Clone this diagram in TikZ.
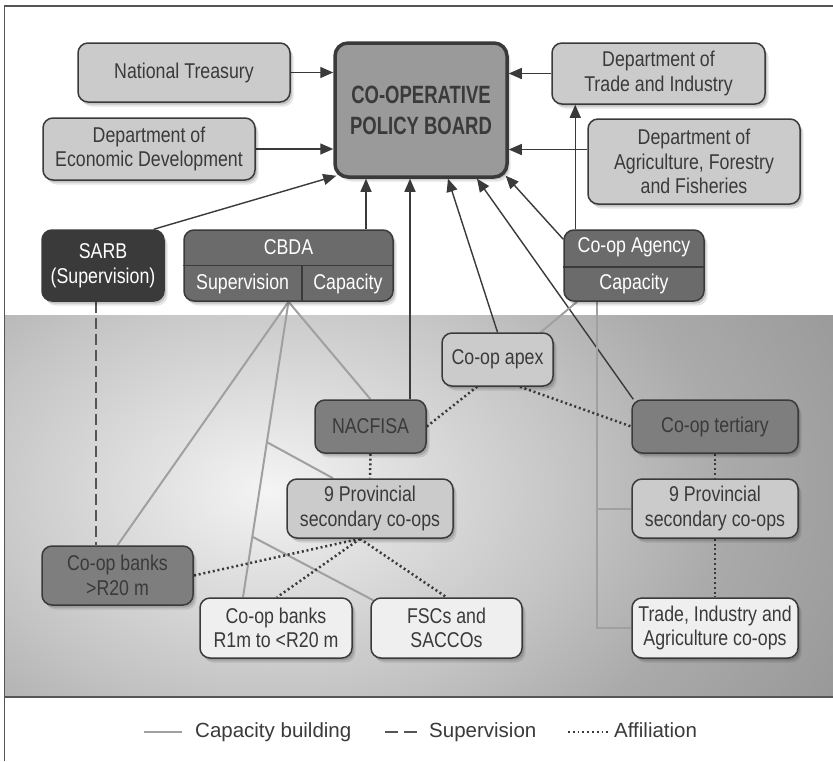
\documentclass[tikz,border=0pt]{standalone}
\usepackage{fontspec}
\setmainfont{Liberation Sans}
\newfontfamily\boxfont{Liberation Sans}[FakeStretch=0.83]
\newfontfamily\cpbfont{Liberation Sans}[FakeStretch=0.74]
\newfontfamily\legfont{Liberation Sans}
\usetikzlibrary{arrows.meta,shadows,calc}
\definecolor{ink}{HTML}{3A3A3A}
\definecolor{framec}{HTML}{555555}
\definecolor{lightbox}{HTML}{CBCBCB}
\definecolor{cpbfill}{HTML}{9A9A9A}
\definecolor{midbox}{HTML}{7E7E7E}
\definecolor{darkbox}{HTML}{6B6B6B}
\definecolor{sarbfill}{HTML}{3A3A3A}
\definecolor{palebox}{HTML}{EFEFEF}
\definecolor{capline}{HTML}{A0A0A0}
\definecolor{gA}{HTML}{F4F4F4}
\definecolor{gB}{HTML}{E0E0E0}
\definecolor{gC}{HTML}{C4C4C4}
\definecolor{gD}{HTML}{AAAAAA}
\definecolor{gE}{HTML}{969696}
\definecolor{gF}{HTML}{888888}
\pgfdeclareradialshading{bgshade}{\pgfpoint{0bp}{0bp}}{color(0bp)=(gA); color(4bp)=(gB); color(10bp)=(gC); color(15bp)=(gD); color(22bp)=(gE); color(35bp)=(gF); color(50bp)=(gF)}
\pgfdeclarelayer{bg}
\pgfdeclarelayer{lines}
\pgfsetlayers{bg,lines,main}
\tikzset{
  box/.style={draw=ink, line width=1.5pt, rounded corners=10pt, align=center, inner sep=0pt,
    font=\boxfont\fontsize{21.4}{24.5}\selectfont, text=ink,
    general shadow={fill=black, opacity=0.10, shadow xshift=3.5pt, shadow yshift=-4.5pt},
    general shadow={fill=black, opacity=0.14, shadow xshift=2pt, shadow yshift=-2.5pt}},
  lightnode/.style={box, fill=lightbox},
  palenode/.style={box, fill=palebox},
  midnode/.style={box, fill=midbox},
  darknode/.style={box, fill=darkbox, text=white},
  sarbnode/.style={box, fill=sarbfill, text=white},
  cpbnode/.style={box, fill=cpbfill, line width=3.5pt, rounded corners=13pt,
    font=\cpbfont\bfseries\fontsize{25}{31}\selectfont},
  lbl/.style={inner sep=0pt, font=\boxfont\fontsize{21.4}{24.5}\selectfont, text=white},
  arr/.style={draw=ink, line width=1.4pt, -{Triangle[length=13pt,width=11pt]}},
  capl/.style={draw=capline, line width=2pt},
  supl/.style={draw=framec, line width=1.6pt, dash pattern=on 11pt off 5pt},
  affl/.style={draw=ink, line width=2.5pt, dash pattern=on 2pt off 2.8pt},
  legtext/.style={inner sep=0pt, anchor=base west, font=\legfont\fontsize{20.5}{24}\selectfont, text=ink}
}
\begin{document}
\begin{tikzpicture}[x=1pt,y=-1pt]
\useasboundingbox (0,0) rectangle (833,761);
\begin{pgfonlayer}{bg}
  \fill[white] (0,0) rectangle (833,761);
  \begin{scope}
    \clip (4.5,315) rectangle (833,697);
    \fill[gF] (4.5,315) rectangle (833,697);
    \shade[shading=bgshade] (270,490) ellipse [x radius=760pt, y radius=520pt];
  \end{scope}
  \draw[framec, line width=1.5pt] (4.5,697) -- (833,697);
  \draw[framec, line width=1.5pt] (833,6) -- (4.5,6) -- (4.5,761);
\end{pgfonlayer}

% top level
\node[lightnode, minimum width=212pt, minimum height=59pt] (nt) at (184,72.5) {National Treasury};
\node[lightnode, minimum width=212pt, minimum height=62pt] (ded) at (149,149) {Department of\\Economic Development};
\node[cpbnode, minimum width=172pt, minimum height=134pt] (cpb) at (421,110) {CO-OPERATIVE\\POLICY BOARD};
\node[lightnode, minimum width=213pt, minimum height=61pt] (dti) at (658.5,73.5) {Department of\\Trade and Industry};
\node[lightnode, minimum width=212pt, minimum height=85pt] (daff) at (694,161.5) {Department of\\Agriculture, Forestry\\and Fisheries};

% second row
\node[sarbnode, minimum width=122pt, minimum height=71pt] (sarb) at (103,265.5) {SARB\\(Supervision)};
\node[darknode, minimum width=209pt, minimum height=71pt] (cbda) at (288.5,265.5) {};
\draw[ink, line width=1.3pt] (cbda.west) -- (cbda.east);
\draw[ink, line width=1.3pt] ([xshift=13.5pt]cbda.center) -- ([xshift=13.5pt]cbda.south);
\node[lbl] (cbdat) at ($(cbda.north)!0.5!(cbda.center)$) {CBDA};
\node[lbl] (cbdasup) at ($(cbda.south west)!0.5!([xshift=13.5pt]cbda.center)$) {Supervision};
\node[lbl] (cbdacap) at ($(cbda.south east)!0.5!([xshift=13.5pt]cbda.center)$) {Capacity};
\node[darknode, minimum width=140pt, minimum height=71pt] (agency) at (634,265.5) {};
\draw[ink, line width=1.3pt] ([yshift=-1.5pt]agency.west) -- ([yshift=-1.5pt]agency.east);
\node[lbl] (agt) at ($(agency.north)!0.5!(agency.center)$) {Co-op Agency};
\node[lbl] (agcap) at ($(agency.south)!0.5!(agency.center)$) {Capacity};

% lower part
\node[lightnode, minimum width=111pt, minimum height=53pt] (apex) at (497.5,359.5) {Co-op apex};
\node[midnode, minimum width=111pt, minimum height=53pt] (nacfisa) at (370.5,426.5) {NACFISA};
\node[midnode, minimum width=166pt, minimum height=53pt] (tert) at (715,426.5) {Co-op tertiary};
\node[lightnode, minimum width=166pt, minimum height=59pt] (prov1) at (370,508.5) {9 Provincial\\secondary co-ops};
\node[lightnode, minimum width=166pt, minimum height=59pt] (prov2) at (715,508.5) {9 Provincial\\secondary co-ops};
\node[midnode, minimum width=151pt, minimum height=59pt] (banksbig) at (117.5,575.5) {Co-op banks\\>R20 m};
\node[palenode, minimum width=152pt, minimum height=60pt] (bankssmall) at (276,628) {Co-op banks\\R1m to <R20 m};
\node[palenode, minimum width=151pt, minimum height=60pt] (fsc) at (446.5,628) {FSCs and\\SACCOs};
\node[palenode, minimum width=166pt, minimum height=60pt] (trade) at (715,628) {Trade, Industry and\\Agriculture co-ops};

\begin{pgfonlayer}{lines}
  % arrows to the board
  \draw[arr] (nt.east) -- (nt.east -| cpb.west);
  \draw[arr] (ded.east) -- (ded.east -| cpb.west);
  \draw[arr] (dti.west) -- (dti.west -| cpb.east);
  \draw[arr] ([yshift=12pt]daff.west) -- ([yshift=12pt]daff.west -| cpb.east);
  \draw[arr] ([xshift=-11pt]sarb.north east) -- ([xshift=3pt,yshift=3pt]cpb.south west);
  \draw[arr] ([xshift=77.5pt]cbda.north) -- ([xshift=77.5pt]cbda.north |- cpb.south);
  \draw[arr] ([xshift=39.5pt]nacfisa.north) -- ([xshift=39.5pt]nacfisa.north |- cpb.south);
  \draw[arr] (apex.north) -- ([xshift=27pt]cpb.south);
  \draw[arr] ([xshift=2pt]tert.north west) -- ([xshift=56pt]cpb.south);
  \draw[arr] ([yshift=-10pt]agency.north west) -- ([xshift=-3pt,yshift=3pt]cpb.south east);
  \draw[arr] ([xshift=12pt]agency.north west) -- ([xshift=12pt]agency.north west |- dti.south);
  % capacity building
  \coordinate (smtop) at ([xshift=-33pt]bankssmall.north);
  \draw[capl] (cbda.south) -- (banksbig.north);
  \draw[capl] (cbda.south) -- (smtop);
  \draw[capl] (cbda.south) -- (nacfisa.north);
  \coordinate (br1) at ($(cbda.south)!0.475!(smtop)$);
  \coordinate (br2) at ($(cbda.south)!0.795!(smtop)$);
  \draw[capl] (br1) -- ([xshift=-37pt]prov1.north);
  \draw[capl] (br2) -- ([xshift=3pt,yshift=-3pt]fsc.north west);
  \coordinate (ag) at ([xshift=-37pt]agency.south);
  \draw[capl] (ag) |- (trade.west);
  \draw[capl] (ag |- prov2.west) -- (prov2.west);
  \draw[capl] ([xshift=-57pt]agency.south) -- ([xshift=-13pt]apex.north east);
  % supervision
  \draw[supl] ([xshift=-7pt]sarb.south) -- ([xshift=-7pt]sarb.south |- banksbig.north);
  % affiliation
  \draw[affl] (nacfisa.east) -- ([xshift=-20.5pt]apex.south);
  \draw[affl] ([xshift=22.5pt]apex.south) -- (tert.west);
  \draw[affl] (nacfisa.south) -- (prov1.north);
  \coordinate (p1b) at ([xshift=-10pt]prov1.south);
  \draw[affl] (p1b) -- (banksbig.east);
  \draw[affl] (p1b) -- ([xshift=1pt]bankssmall.north);
  \draw[affl] (p1b) -- (fsc.north);
  \draw[affl] (tert.south) -- (prov2.north);
  \draw[affl] (prov2.south) -- (trade.north);
\end{pgfonlayer}

% legend
\coordinate (lca) at (144,732);
\coordinate (lcb) at (182,732);
\draw[capl] (lca) -- (lcb);
\node[legtext] (lct) at (195,737) {Capacity building};
\coordinate (lsa) at (385,732);
\coordinate (lsb) at (418,732);
\draw[framec, line width=1.8pt, dash pattern=on 13pt off 6pt] (lsa) -- (lsb);
\node[legtext] (lst) at (429,737) {Supervision};
\coordinate (laa) at (568,732);
\coordinate (lab) at (608,732);
\draw[ink, line width=2pt, dash pattern=on 1.8pt off 3pt] (laa) -- (lab);
\node[legtext] (lat) at (614,737) {Affiliation};
\end{tikzpicture}
\end{document}
